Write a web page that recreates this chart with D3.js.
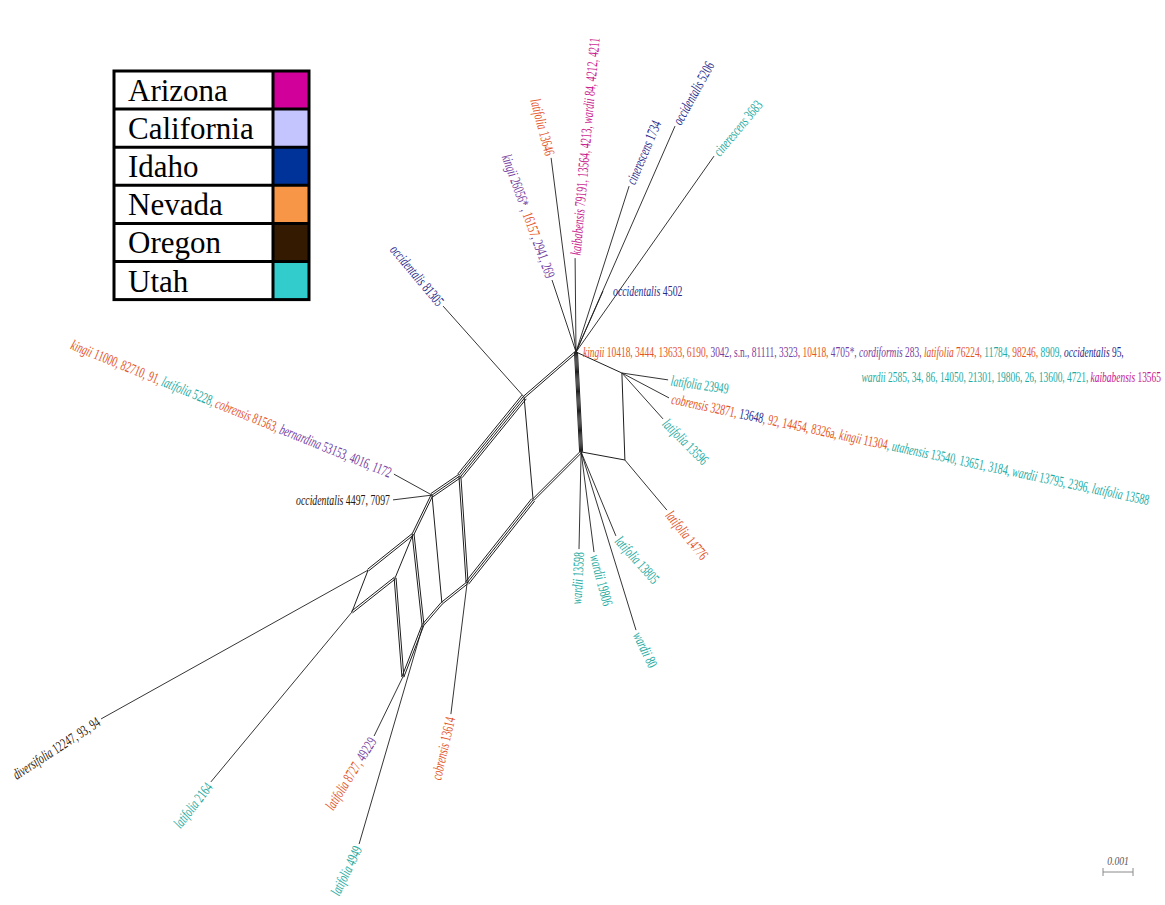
<!DOCTYPE html>
<html><head><meta charset="utf-8">
<script src="https://cdn.jsdelivr.net/npm/d3@7"></script>
<style>
html,body{margin:0;padding:0;background:#fff;}
svg{display:block;}
text{white-space:pre;}
</style></head>
<body>
<svg id="chart" width="1165" height="905"></svg>
<script>
// ---- Regions (legend) ----
const regions = ["Arizona", "California", "Idaho", "Nevada", "Oregon", "Utah"];
const swatchColors = ["#d2009a", "#c4c4ff", "#003399", "#f79646", "#331a00", "#33cccc"];
const inkColors = ["#c8168c", "#7440a0", "#1f2b8c", "#e4541e", "#2a1608", "#22aaa0"];

// ---- Splits network: internal nodes, coordinates in units of 0.0001 from the hub ----
const nodeIds = ["A", "B", "C", "D", "E", "F", "G", "H", "I", "J", "K", "M", "N", "O", "P", "Q"];
const nodeX = [0, 1.7, 15.3, 16.3, -17.3, -14.3, -38.7, -36.3, -48, -44.7, -54.3, -51, -60.3, -57.7, -69.3, -74.7];
const nodeY = [0, 33.3, 7, 36, 15, 49.3, 41.3, 77, 47.7, 83.7, 60.7, 91, 75.3, 108.3, 72.7, 86.7];

// edges: [from, to, number of parallel splits]
const edges = [
  ["A", "B", 4],
  ["A", "C", 1], ["C", "D", 1], ["B", "D", 1],
  ["A", "E", 2], ["E", "F", 1], ["B", "F", 2],
  ["E", "G", 4], ["G", "H", 2], ["F", "H", 3],
  ["G", "I", 3], ["I", "J", 1], ["H", "J", 2],
  ["I", "K", 2], ["K", "M", 2], ["J", "M", 2],
  ["K", "P", 2], ["P", "Q", 1], ["K", "N", 1], ["N", "Q", 2],
  ["N", "O", 2], ["M", "O", 2]
];

// ---- Terminal branches ----
const leafIds = ["kingii26056", "latifolia13646", "kaibabensis79191", "cinerescens1734", "occidentalis5206",
  "cinerescens3683", "occidentalis4502", "latifolia23949", "cobrensis32871", "latifolia13596", "latifolia14776",
  "wardii13598", "wardii19806", "latifolia13805", "wardii80", "occidentalis81305", "bernardina53153",
  "occidentalis4497", "diversifolia12247", "latifolia2164", "latifolia8727", "latifolia4949", "cobrensis13614"];
const leafAttach = ["A", "A", "A", "A", "A", "A", "A", "C", "C", "C", "D", "B", "B", "B", "B", "E", "I", "I", "P", "Q", "O", "M", "H"];
const leafX = [-8, -8.3, -0.3, 17.7, 33, 46, 9, 30.7, 31, 29, 30.3, 1, 6, 13.3, 20, -44.3, -60.7, -61, -158.3, -121.7, -67.3, -72.3, -41.7];
const leafY = [-24, -64.7, -31.3, -55.3, -75.3, -65.3, -20.3, 9.3, 15.3, 22.3, 52.7, 65.7, 66.7, 61.3, 92.7, -15.3, 40.7, 49.3, 122.3, 143.3, 128, 164, 120.7];

// label text segments: [text, region index, italic]
const leafText = [
  [["kingii", 1, 1], [" 26056* , ", 1], ["16157", 3], [", 2941, 269", 1]],
  [["latifolia", 3, 1], [" 13646", 3]],
  [["kaibabensis", 0, 1], [" 79191, 13564, 4213, ", 0], ["wardii", 0, 1], [" 84, 4212, 4211", 0]],
  [["cinerescens", 2, 1], [" 1734", 2]],
  [["occidentalis", 2, 1], [" 5206", 2]],
  [["cinerescens", 5, 1], [" 3683", 5]],
  [["occidentalis", 2, 1], [" 4502", 2]],
  [["latifolia", 5, 1], [" 23949", 5]],
  [["cobrensis", 3, 1], [" 32871, ", 3], ["13648", 2], [", 92, 14454, 8326a, ", 3], ["kingii", 3, 1], [" 11304", 3],
   [", ", 5], ["utahensis", 5, 1], [" 13540, 13651, 3184, ", 5], ["wardii", 5, 1], [" 13795, 2396, ", 5], ["latifolia", 5, 1], [" 13588", 5]],
  [["latifolia", 5, 1], [" 13596", 5]],
  [["latifolia", 3, 1], [" 14776", 3]],
  [["wardii", 5, 1], [" 13598", 5]],
  [["wardii", 5, 1], [" 19806", 5]],
  [["latifolia", 5, 1], [" 13805", 5]],
  [["wardii", 5, 1], [" 80", 5]],
  [["occidentalis", 2, 1], [" 81305", 2]],
  [["kingii", 3, 1], [" 11000, 82710, 91, ", 3], ["latifolia", 5, 1], [" 5228, ", 5], ["cobrensis", 3, 1], [" 81563, ", 3],
   ["bernardina", 1, 1], [" 53153, 4016, 1172", 1]],
  [["occidentalis", 4, 1], [" 4497, 7097", 4]],
  [["diversifolia", 4, 1], [" 12247, 93, 94", 4]],
  [["latifolia", 5, 1], [" 2164", 5]],
  [["latifolia", 3, 1], [" 8727, ", 3], ["49229", 1]],
  [["latifolia", 5, 1], [" 4949", 5]],
  [["cobrensis", 3, 1], [" 13614", 3]]
];

// taxa sitting on the central hub itself (two text lines)
const hubText1 = [["kingii", 3, 1], [" 10418, 3444, 13633, 6190, ", 3], ["3042, s.n., 81111, 3323, ", 1], ["10418, ", 3],
  ["4705*, ", 1], ["cordiformis", 1, 1], [" 283, ", 1], ["latifolia", 3, 1], [" 76224, ", 3], ["11784, ", 5],
  ["98246, ", 3], ["8909, ", 5], ["occidentalis", 2, 1], [" 95,", 2]];
const hubText2 = [["wardii", 5, 1], [" 2585, 34, 86, 14050, 21301, 19806, 26, 13600, 4721, ", 5], ["kaibabensis", 0, 1], [" 13565", 0]];

// ---- label layout (rotation in degrees, anchor side) ----
const leafAngle = [70, 75, -85, -67, -61, -50, 0, 8, 12, 45, 51, -87, 75, 48, 64, 50, 22, 0, -33, -52, -58, -64, -77];
const leafAnchor = ["end", "end", "start", "start", "start", "start", "start", "start", "start", "start", "start",
  "end", "start", "start", "start", "end", "end", "end", "end", "end", "end", "end", "end"];

const svg = d3.select("#chart");

// 0.0001 distance units -> pixels (3 px per unit)
const x = d3.scaleLinear().domain([0, 10]).range([576, 606]);
const y = d3.scaleLinear().domain([0, 10]).range([352, 382]);

const nodePos = {};
nodeIds.forEach((id, i) => nodePos[id] = [x(nodeX[i]), y(nodeY[i])]);

const gNet = svg.append("g").attr("fill", "none").attr("stroke", "#1e1e1e").attr("stroke-width", 1);

// parallel split edges
const edgeLines = [];
edges.forEach(([a, b, n]) => {
  const [x1, y1] = nodePos[a], [x2, y2] = nodePos[b];
  const len = Math.hypot(x2 - x1, y2 - y1);
  const nx = -(y2 - y1) / len, ny = (x2 - x1) / len;
  const gap = n >= 4 && a === "A" ? 1.0 : 1.9;
  for (let k = 0; k < n; k++) {
    const o = (k - (n - 1) / 2) * gap;
    edgeLines.push([x1 + nx * o, y1 + ny * o, x2 + nx * o, y2 + ny * o]);
  }
});
gNet.selectAll("line.split").data(edgeLines).join("line").attr("class", "split")
  .attr("x1", d => d[0]).attr("y1", d => d[1]).attr("x2", d => d[2]).attr("y2", d => d[3]);

// terminal branches
const leaves = leafIds.map((id, i) => ({
  id, from: nodePos[leafAttach[i]], to: [x(leafX[i]), y(leafY[i])],
  text: leafText[i], angle: leafAngle[i], anchor: leafAnchor[i]
}));
gNet.selectAll("line.leaf").data(leaves).join("line").attr("class", "leaf")
  .attr("stroke-width", 0.9)
  .attr("x1", d => d.from[0]).attr("y1", d => d.from[1]).attr("x2", d => d.to[0]).attr("y2", d => d.to[1]);

// labels: condensed serif, taxon names in italics
const SX = 0.655, FS = 15, GAP = 3;
function drawLabel(parent, px, py, angle, anchor, segs, gap, fs) {
  const g = parent.append("g").attr("transform", `translate(${px},${py}) rotate(${angle})`);
  const t = g.append("text")
    .attr("transform", `scale(${SX},1)`)
    .attr("x", (anchor === "end" ? -gap : gap) / SX)
    .attr("dy", "0.35em")
    .attr("text-anchor", anchor)
    .attr("font-family", "'Liberation Serif', 'Times New Roman', serif")
    .attr("font-size", fs || FS);
  segs.forEach(s => {
    t.append("tspan").text(s[0]).attr("fill", inkColors[s[1]]).attr("font-style", s[2] ? "italic" : "normal");
  });
}
const gLab = svg.append("g");
leaves.forEach(d => drawLabel(gLab, d.to[0], d.to[1], d.angle, d.anchor, d.text, d.id === "occidentalis4502" ? 10 : GAP));
drawLabel(gLab, x(0), y(0), 0, "start", hubText1, 7, 14.4);
drawLabel(gLab, x(195), y(8.3), 0, "end", hubText2, 0, 14.4);

// ---- legend ----
const lg = svg.append("g").attr("transform", "translate(114,71)");
const rowH = 38.1, textW = 159, swW = 36;
regions.forEach((r, i) => {
  lg.append("rect").attr("x", textW).attr("y", i * rowH).attr("width", swW).attr("height", rowH).attr("fill", swatchColors[i]);
  lg.append("text").attr("x", 14).attr("y", i * rowH + 30)
    .attr("font-family", "'Liberation Serif', 'Times New Roman', serif").attr("font-size", 31).attr("fill", "#000").text(r);
});
const lgB = lg.append("g").attr("stroke", "#000").attr("stroke-width", 3).attr("fill", "none");
lgB.append("rect").attr("x", 0).attr("y", 0).attr("width", textW + swW).attr("height", rowH * regions.length);
for (let i = 1; i < regions.length; i++) lgB.append("line").attr("x1", 0).attr("x2", textW + swW).attr("y1", i * rowH).attr("y2", i * rowH);
lgB.append("line").attr("x1", textW).attr("x2", textW).attr("y1", 0).attr("y2", rowH * regions.length);

// ---- scale bar (0.001) ----
const sb = svg.append("g").attr("stroke", "#8a8a8a").attr("stroke-width", 1);
const sx0 = 1103, sLen = x(10) - x(0), sy0 = 872;
sb.append("line").attr("x1", sx0).attr("x2", sx0 + sLen).attr("y1", sy0).attr("y2", sy0);
sb.append("line").attr("x1", sx0).attr("x2", sx0).attr("y1", sy0 - 4).attr("y2", sy0 + 4);
sb.append("line").attr("x1", sx0 + sLen).attr("x2", sx0 + sLen).attr("y1", sy0 - 4).attr("y2", sy0 + 4);
svg.append("text").attr("x", sx0 + sLen / 2).attr("y", sy0 - 7).attr("text-anchor", "middle")
  .attr("font-family", "'Liberation Serif', serif").attr("font-style", "italic").attr("font-size", 12)
  .attr("fill", "#555").attr("transform", `translate(${(sx0 + sLen / 2) * 0.2},0) scale(0.8,1)`)
  .text("0.001");
</script>
</body></html>
